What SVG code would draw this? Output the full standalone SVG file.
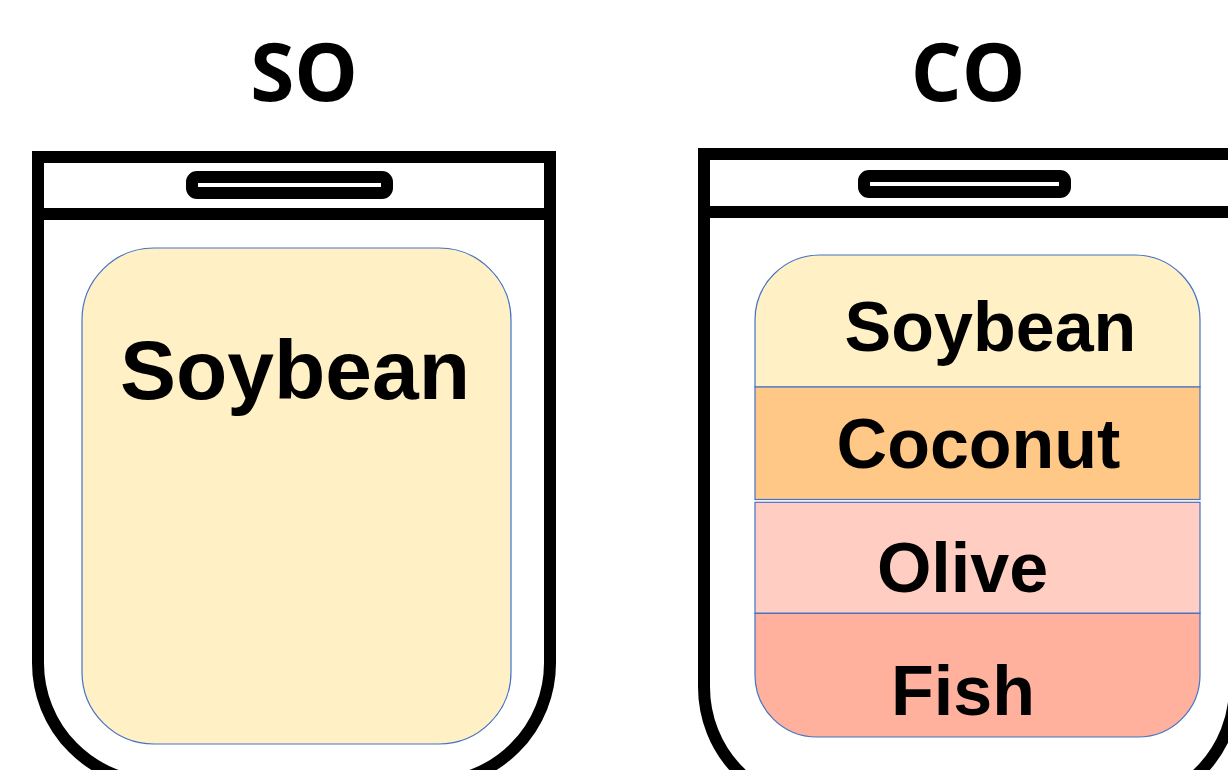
<svg xmlns="http://www.w3.org/2000/svg" width="1228" height="770" viewBox="0 0 1228 770">
  <style>
    .jar { fill: none; stroke: #000; stroke-width: 12; stroke-linejoin: miter; }
    .slot { fill: none; stroke: #000; stroke-width: 12; }
    .layer { stroke: #4472C4; stroke-width: 1.2; }
    .title { font-family: "Open Sans", "Noto Sans", sans-serif; font-weight: 700; font-size: 80px; fill: #000; text-anchor: middle; }
    .label { font-family: "Liberation Sans", Arial, sans-serif; font-weight: 700; fill: #000; text-anchor: middle; }
  </style>
  <rect width="1228" height="770" fill="#fff"/>

  <!-- Soybean oil (SO) jar -->
  <g id="jar-so">
    <text class="title" x="304" y="101">SO</text>
    <path class="layer" fill="#FFF0C5" d="M154,248 H439 A72,72 0 0 1 511,320 V672 A72,72 0 0 1 439,744 H154 A72,72 0 0 1 82,672 V320 A72,72 0 0 1 154,248 Z"/>
    <text class="label" x="295" y="399" font-size="84">Soybean</text>
    <rect class="jar" x="38" y="157" width="512" height="57"/>
    <path class="jar" d="M38,214 V663 A120,120 0 0 0 158,783 H430 A120,120 0 0 0 550,663 V214"/>
    <rect class="slot" x="192" y="177" width="195" height="16" rx="5"/>
  </g>

  <!-- Combined oil (CO) jar -->
  <g id="jar-co">
    <text class="title" x="968" y="101">CO</text>
    <path class="layer" fill="#FFF0C5" d="M820,255 H1135 A65,65 0 0 1 1200,320 V387 H755 V320 A65,65 0 0 1 820,255 Z"/>
    <rect class="layer" fill="#FFC886" x="755" y="387" width="445" height="112.5"/>
    <rect class="layer" fill="#FFCDC1" x="755" y="502.3" width="445" height="111"/>
    <path class="layer" fill="#FFB19E" d="M755,613.3 H1200 V675 A62,62 0 0 1 1138,737 H817 A62,62 0 0 1 755,675 Z"/>
    <text class="label" x="990.5" y="351" font-size="70">Soybean</text>
    <text class="label" x="978.5" y="468" font-size="70">Coconut</text>
    <text class="label" x="962.5" y="591.5" font-size="70">Olive</text>
    <text class="label" x="963" y="715" font-size="70">Fish</text>
    <rect class="jar" x="704" y="154" width="531" height="58"/>
    <path class="jar" d="M704,212 V687 A120,120 0 0 0 824,807 H1115 A120,120 0 0 0 1235,687 V212"/>
    <rect class="slot" x="864" y="176" width="201" height="16" rx="5"/>
  </g>
</svg>
